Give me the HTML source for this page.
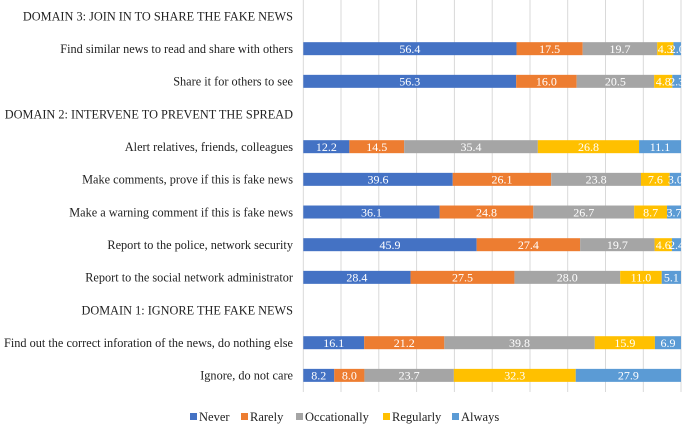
<!DOCTYPE html>
<html><head><meta charset="utf-8"><style>
html,body{margin:0;padding:0;background:#fff;}
svg{display:block;}
text{font-family:"Liberation Serif","Times New Roman",serif;}
</style></head><body>
<svg width="685" height="425" viewBox="0 0 685 425" xmlns="http://www.w3.org/2000/svg">
<g stroke="#d9d9d9" stroke-width="1">
<line x1="303.3" y1="0" x2="303.3" y2="392"/>
<line x1="341" y1="0" x2="341" y2="392"/>
<line x1="378.8" y1="0" x2="378.8" y2="392"/>
<line x1="416.6" y1="0" x2="416.6" y2="392"/>
<line x1="454.4" y1="0" x2="454.4" y2="392"/>
<line x1="492.2" y1="0" x2="492.2" y2="392"/>
<line x1="530" y1="0" x2="530" y2="392"/>
<line x1="567.7" y1="0" x2="567.7" y2="392"/>
<line x1="605.5" y1="0" x2="605.5" y2="392"/>
<line x1="643.3" y1="0" x2="643.3" y2="392"/>
<line x1="681" y1="0" x2="681" y2="392"/>
</g>
<g id="bars"></g>
<g font-size="12.5" fill="#222" text-anchor="end" id="labels"></g>
<g font-size="12.5" fill="#222">
<rect x="190" y="413" width="7" height="7" fill="#4472C4"/><text x="199" y="421">Never</text>
<rect x="241" y="413" width="7" height="7" fill="#ED7D31"/><text x="250" y="421">Rarely</text>
<rect x="296" y="413" width="7" height="7" fill="#A5A5A5"/><text x="305" y="421">Occationally</text>
<rect x="383" y="413" width="7" height="7" fill="#FFC000"/><text x="392" y="421">Regularly</text>
<rect x="452" y="413" width="7" height="7" fill="#5B9BD5"/><text x="461" y="421">Always</text>
</g>
</svg>
<script>
var rows=[
["DOMAIN 3: JOIN IN TO SHARE THE FAKE NEWS",null],
["Find similar news to read and share with others",[56.4,17.5,19.7,4.3,2.0]],
["Share it for others to see",[56.3,16.0,20.5,4.8,2.3]],
["DOMAIN 2: INTERVENE TO PREVENT THE SPREAD",null],
["Alert relatives, friends, colleagues",[12.2,14.5,35.4,26.8,11.1]],
["Make comments, prove if this is fake news",[39.6,26.1,23.8,7.6,3.0]],
["Make a warning comment if this is fake news",[36.1,24.8,26.7,8.7,3.7]],
["Report to the police, network security",[45.9,27.4,19.7,4.6,2.4]],
["Report to the social network administrator",[28.4,27.5,28.0,11.0,5.1]],
["DOMAIN 1: IGNORE THE FAKE NEWS",null],
["Find out the correct inforation of the news, do nothing else",[16.1,21.2,39.8,15.9,6.9]],
["Ignore, do not care",[8.2,8.0,23.7,32.3,27.9]]];
var cols=["#4472C4","#ED7D31","#A5A5A5","#FFC000","#5B9BD5"];
var ns="http://www.w3.org/2000/svg",B=document.getElementById("bars"),L=document.getElementById("labels");
function el(t,a,p,txt){var e=document.createElementNS(ns,t);for(var k in a)e.setAttribute(k,a[k]);if(txt!=null)e.textContent=txt;p.appendChild(e);return e;}
var labs=[];
rows.forEach(function(r,i){var cy=16+32.67*i;
labs.push(el("text",{x:293,y:cy+4.3},L,r[0]));
if(r[1]){var s=r[1].reduce(function(a,b){return a+b},0);var x=303.3,W=377.7;
r[1].forEach(function(v,j){var w=v/s*W;el("rect",{x:x,y:cy-6.5,width:w,height:13,fill:cols[j]},B);
el("text",{x:x+w/2,y:cy+4.3,"font-size":"12","text-anchor":"middle",fill:"#fff"},B,v.toFixed(1));x+=w;});}
});
try{var lw=labs[10].getComputedTextLength();if(lw>0){var f=289/lw;labs.forEach(function(t){var l=t.getComputedTextLength();t.setAttribute("textLength",(l*f).toFixed(1));t.setAttribute("lengthAdjust","spacingAndGlyphs");});}}catch(e){}
</script>
</body></html>
